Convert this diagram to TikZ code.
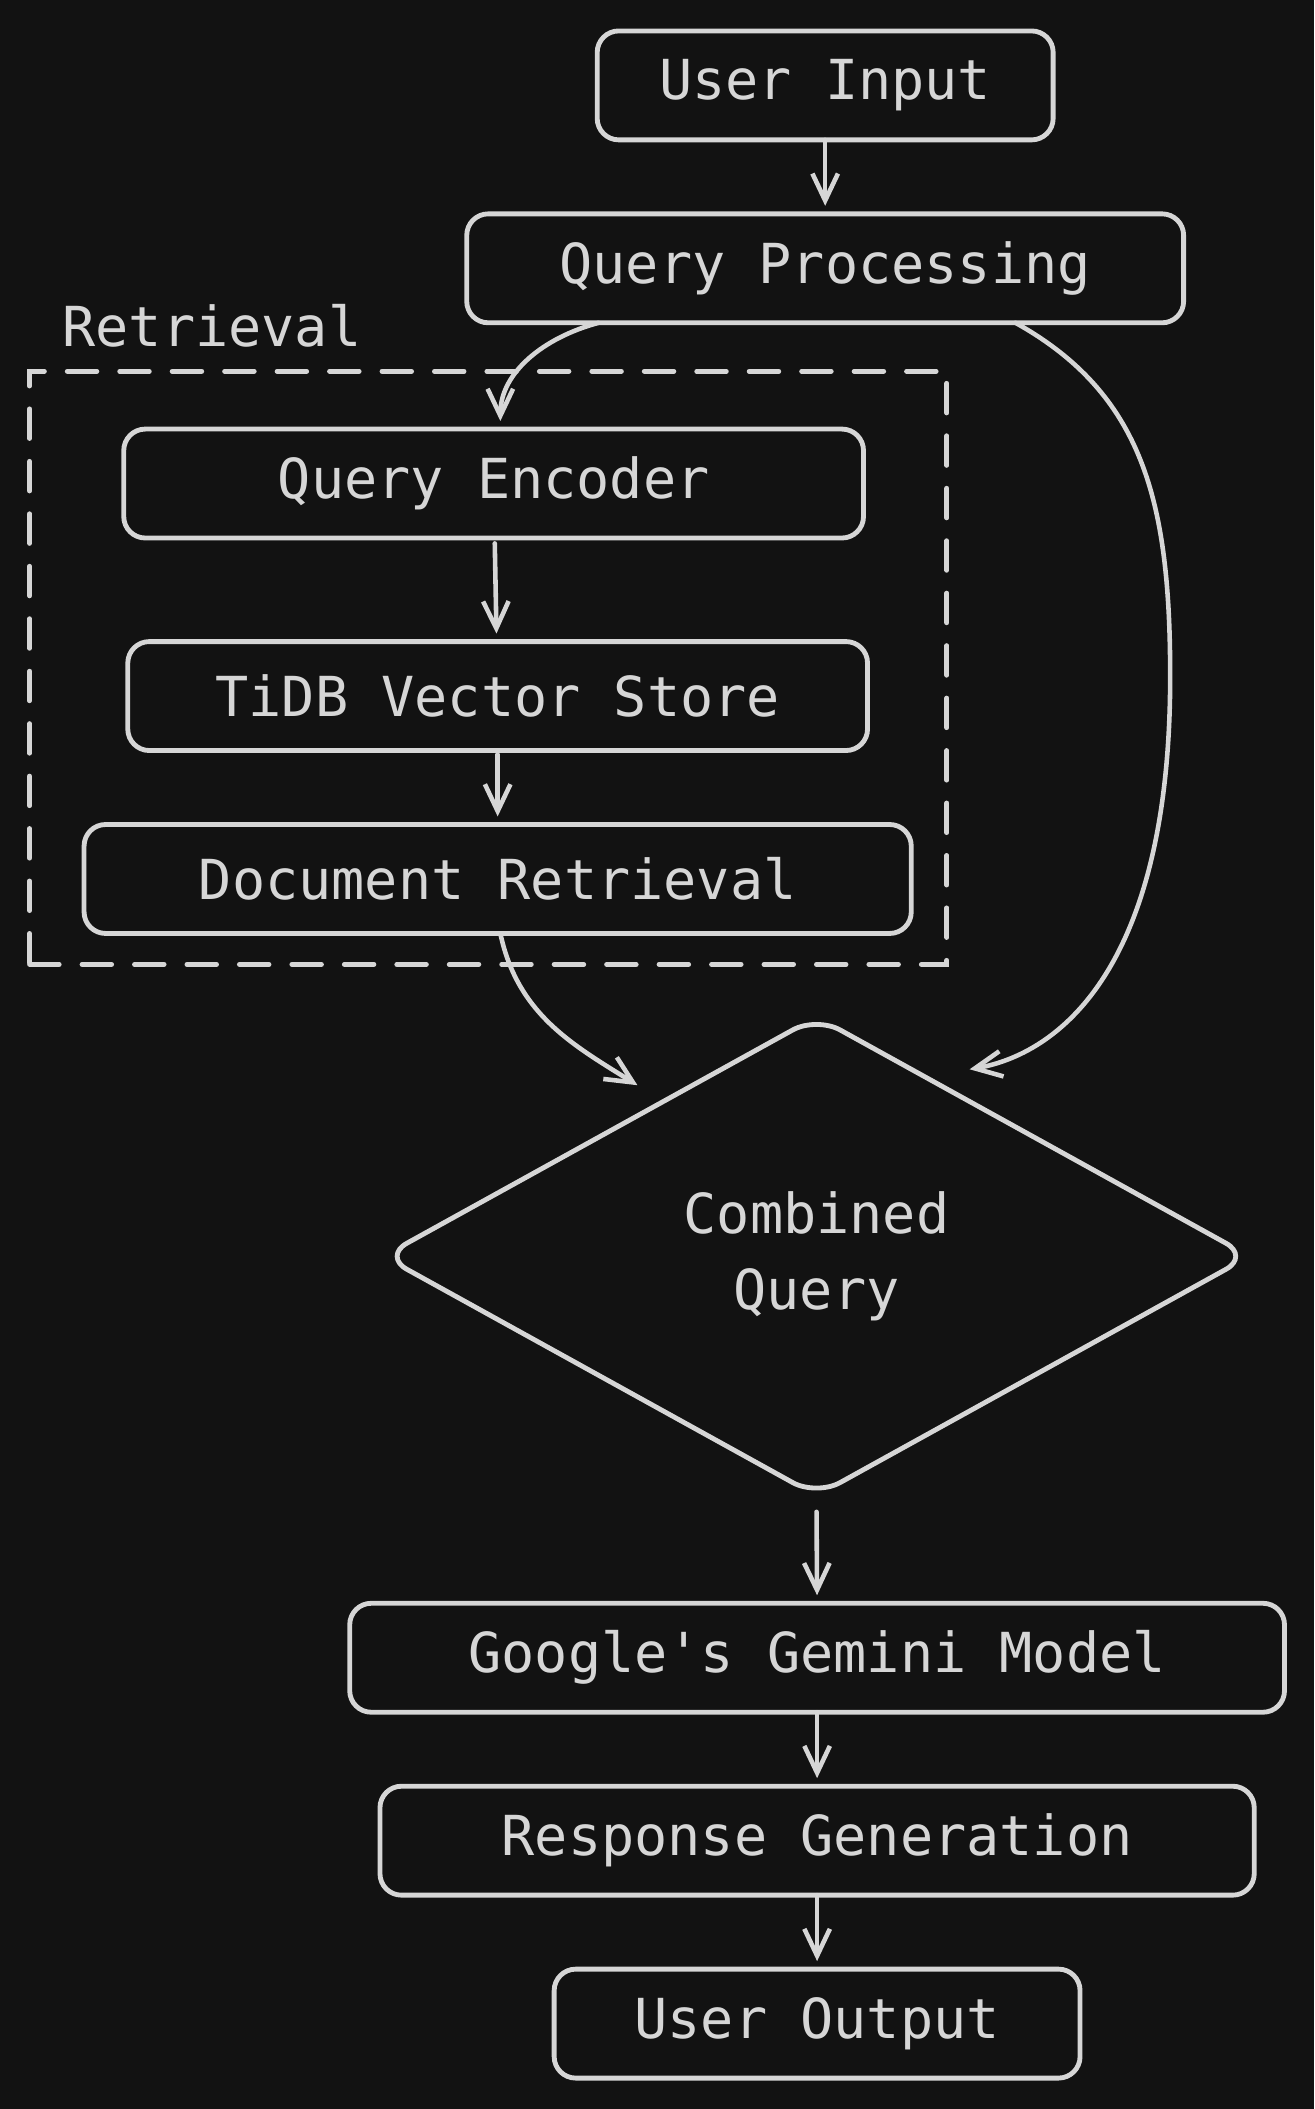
\documentclass[tikz,border=0pt]{standalone}
\usepackage{fontspec}
\setmainfont{DejaVu Sans Mono}
\usetikzlibrary{positioning,shapes.geometric,arrows.meta}
\definecolor{bg}{HTML}{121212}
\definecolor{ink}{HTML}{D6D6D6}
\tikzset{
  box/.style={draw=ink,line width=1.8pt,rounded corners=8pt,minimum height=40.5pt,inner sep=0pt,outer sep=0pt,text=ink,font=\fontsize{20.5}{28}\selectfont},
  dmd/.style={diamond,draw=ink,line width=1.8pt,rounded corners=10pt,minimum width=322pt,minimum height=178pt,inner sep=0pt,outer sep=0pt,align=center,text=ink,font=\fontsize{20.5}{28.5}\selectfont},
  arr/.style={draw=ink,line width=1.7pt,line cap=round,-{Straight Barb[length=10pt,width=9.5pt]},shorten >=3pt},
}
\begin{document}
\begin{tikzpicture}[x=0.5pt,y=0.5pt]
\fill[bg,use as bounding box] (0,0) rectangle (977,-1568);

\node[box,minimum width=169.5pt](ui) at (613.5,-63.5){User Input};
\node[box,minimum width=266.5pt,below=27.5pt of ui](qproc){Query Processing};

% retrieval group
\node[draw=ink,line width=1.8pt,line cap=round,dash pattern=on 11pt off 8.5pt,minimum width=341pt,minimum height=220.5pt,inner sep=0pt](retbox) at (363,-496.5){};
\node[text=ink,font=\fontsize{20.5}{28}\selectfont](retlbl) at (157.5,-242){Retrieval};
\node[box,minimum width=275pt](qenc) at (367,-359.5){Query Encoder};
\node[box,minimum width=275pt,below=38.5pt of qenc,xshift=1.5pt](tidb){TiDB Vector Store};
\node[box,minimum width=307.5pt,below=27.5pt of tidb](docret){Document Retrieval};

\node[dmd](comb) at (607,-934){Combined\\Query};

\node[box,minimum width=347.5pt](gem) at (607.5,-1232.5){Google\textquotesingle s Gemini Model};
\node[box,minimum width=325pt,below=27.5pt of gem](resp){Response Generation};
\node[box,minimum width=195.5pt,below=27.5pt of resp](uout){User Output};

\draw[arr] (ui) -- (qproc);
\draw[arr] ([xshift=49pt]qproc.south west) to[out=195,in=90] ([xshift=2.5pt]qenc.north);
\draw[arr,shorten <=2pt] (qenc) -- (tidb);
\draw[arr,shorten <=1.5pt] (tidb) -- (docret);
\draw[arr] ([xshift=1pt]docret.south) to[out=-78,in=148] ([xshift=-64pt,yshift=-27pt]comb.north);
\draw[arr] ([xshift=-62.5pt]qproc.south east) .. controls +(95,-53) and +(0,130) .. ++(115,-263)
  .. controls +(0,-220) and +(70,12) .. ([xshift=54pt,yshift=-20pt]comb.north);
\draw[arr,shorten <=6pt] (comb.south) -- (gem.north);
\draw[arr] (gem) -- (resp);
\draw[arr] (resp) -- (uout);
\end{tikzpicture}
\end{document}
